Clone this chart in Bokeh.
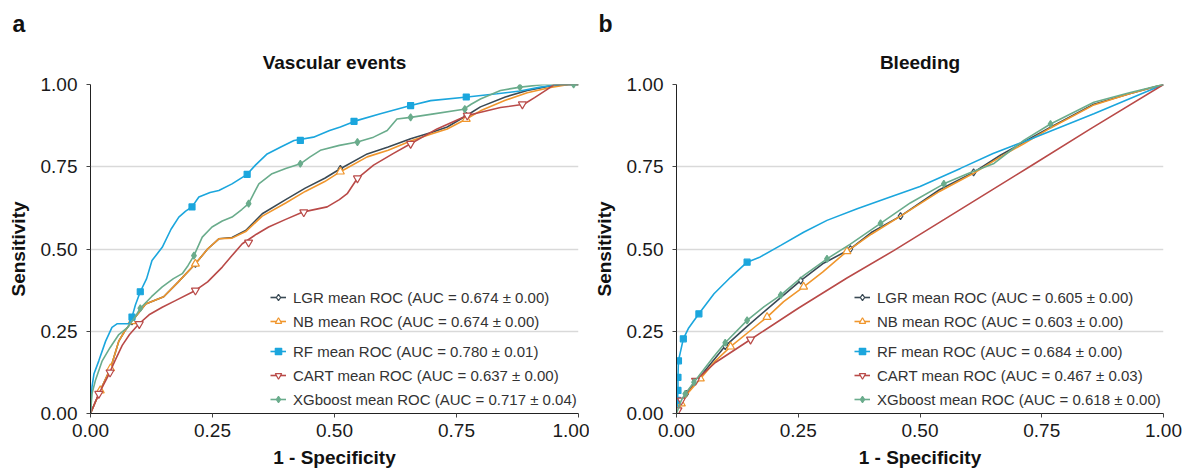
from bokeh.plotting import figure
from bokeh.models import Range1d, FixedTicker, Legend, LegendItem, Title, NumeralTickFormatter
from bokeh.layouts import row
from bokeh.embed import file_html
from bokeh.resources import INLINE

FONT = "Liberation Sans"

ticks = [0.0, 0.25, 0.5, 0.75, 1.0]
series = ["LGR", "NB", "RF", "CART", "XGboost"]
colors = ["#3a4a55", "#f0962d", "#1ba6dd", "#b94a48", "#6aac8c"]
marker_types = ["diamond", "triangle", "square", "inverted_triangle", "diamond"]
marker_fill = ["white", "white", None, "white", None]
marker_size = [7, 8, 6, 8, 7]

va_auc = ["0.674 ± 0.00", "0.674 ± 0.00", "0.780 ± 0.01", "0.637 ± 0.00", "0.717 ± 0.04"]
bl_auc = ["0.605 ± 0.00", "0.603 ± 0.00", "0.684 ± 0.00", "0.467 ± 0.03", "0.618 ± 0.00"]

# ---------------- Vascular events ----------------
va_lgr_x = [0, 0.02, 0.041, 0.058, 0.07, 0.085, 0.113, 0.15, 0.18, 0.215, 0.24, 0.263, 0.29, 0.318, 0.352, 0.40, 0.44, 0.48, 0.512, 0.567, 0.61, 0.656, 0.70, 0.731, 0.77, 0.799, 0.85, 0.895, 0.94, 0.98, 1.0]
va_lgr_y = [0, 0.07, 0.137, 0.22, 0.25, 0.28, 0.333, 0.355, 0.40, 0.455, 0.50, 0.531, 0.535, 0.556, 0.607, 0.65, 0.685, 0.715, 0.744, 0.789, 0.81, 0.835, 0.855, 0.871, 0.905, 0.932, 0.962, 0.982, 0.995, 1.0, 1.0]
va_nb_x = [0, 0.02, 0.041, 0.058, 0.07, 0.085, 0.113, 0.15, 0.18, 0.215, 0.24, 0.263, 0.29, 0.318, 0.352, 0.40, 0.44, 0.48, 0.512, 0.567, 0.61, 0.656, 0.70, 0.731, 0.77, 0.799, 0.85, 0.895, 0.94, 0.98, 1.0]
va_nb_y = [0, 0.07, 0.137, 0.22, 0.25, 0.28, 0.333, 0.355, 0.40, 0.455, 0.50, 0.531, 0.533, 0.553, 0.60, 0.64, 0.675, 0.705, 0.735, 0.78, 0.80, 0.828, 0.85, 0.865, 0.895, 0.92, 0.952, 0.975, 0.99, 1.0, 1.0]
va_rf_x = [0, 0.003, 0.007, 0.017, 0.031, 0.044, 0.055, 0.079, 0.085, 0.092, 0.102, 0.115, 0.126, 0.147, 0.165, 0.181, 0.195, 0.208, 0.222, 0.245, 0.263, 0.29, 0.321, 0.338, 0.362, 0.39, 0.417, 0.457, 0.49, 0.512, 0.547, 0.594, 0.656, 0.697, 0.772, 0.833, 0.88, 0.922, 0.96, 1.0]
va_rf_y = [0, 0.08, 0.12, 0.16, 0.22, 0.262, 0.273, 0.273, 0.293, 0.33, 0.37, 0.41, 0.465, 0.505, 0.56, 0.597, 0.615, 0.628, 0.658, 0.672, 0.678, 0.698, 0.727, 0.755, 0.789, 0.81, 0.83, 0.84, 0.86, 0.871, 0.891, 0.911, 0.936, 0.951, 0.962, 0.972, 0.98, 0.992, 1.0, 1.0]
va_cart_x = [0, 0.017, 0.038, 0.05, 0.065, 0.08, 0.099, 0.12, 0.147, 0.174, 0.215, 0.24, 0.27, 0.29, 0.311, 0.34, 0.365, 0.40, 0.434, 0.485, 0.51, 0.526, 0.547, 0.58, 0.62, 0.656, 0.71, 0.772, 0.84, 0.888, 0.91, 0.936, 0.95, 1.0]
va_cart_y = [0, 0.06, 0.12, 0.16, 0.207, 0.24, 0.272, 0.30, 0.323, 0.343, 0.374, 0.40, 0.445, 0.48, 0.516, 0.545, 0.567, 0.59, 0.612, 0.628, 0.65, 0.668, 0.715, 0.755, 0.79, 0.82, 0.865, 0.906, 0.93, 0.94, 0.96, 0.985, 1.0, 1.0]
va_xgb_x = [0, 0.003, 0.01, 0.024, 0.04, 0.058, 0.075, 0.09, 0.102, 0.125, 0.147, 0.17, 0.188, 0.2, 0.212, 0.229, 0.249, 0.27, 0.29, 0.31, 0.324, 0.335, 0.345, 0.372, 0.40, 0.43, 0.45, 0.471, 0.51, 0.547, 0.58, 0.608, 0.628, 0.656, 0.70, 0.765, 0.78, 0.799, 0.84, 0.881, 0.93, 1.0]
va_xgb_y = [0, 0.06, 0.10, 0.16, 0.20, 0.24, 0.26, 0.29, 0.32, 0.355, 0.385, 0.41, 0.425, 0.45, 0.48, 0.536, 0.567, 0.585, 0.597, 0.62, 0.638, 0.67, 0.698, 0.729, 0.745, 0.759, 0.78, 0.80, 0.815, 0.825, 0.84, 0.86, 0.895, 0.90, 0.91, 0.925, 0.94, 0.956, 0.982, 0.992, 1.0, 1.0]

va_lgr_mx = [0.02, 0.085, 0.215, 0.512, 0.77]
va_lgr_my = [0.07, 0.28, 0.455, 0.744, 0.905]
va_nb_mx = [0.02, 0.041, 0.085, 0.215, 0.512, 0.77]
va_nb_my = [0.07, 0.137, 0.28, 0.455, 0.735, 0.895]
va_rf_mx = [0.085, 0.102, 0.208, 0.321, 0.43, 0.54, 0.656, 0.77]
va_rf_my = [0.293, 0.37, 0.628, 0.727, 0.83, 0.888, 0.936, 0.962]
va_cart_mx = [0.017, 0.04, 0.10, 0.215, 0.324, 0.437, 0.547, 0.656, 0.772, 0.885]
va_cart_my = [0.06, 0.125, 0.272, 0.374, 0.52, 0.612, 0.715, 0.82, 0.906, 0.94]
va_xgb_mx = [0.102, 0.212, 0.324, 0.43, 0.547, 0.656, 0.767, 0.88, 0.99]
va_xgb_my = [0.32, 0.48, 0.638, 0.759, 0.825, 0.90, 0.925, 0.992, 1.0]

# ---------------- Bleeding ----------------
bl_lgr_x = [0, 0.01, 0.02, 0.05, 0.10, 0.145, 0.2, 0.255, 0.30, 0.357, 0.40, 0.46, 0.54, 0.61, 0.665, 0.713, 0.768, 0.857, 0.93, 1.0]
bl_lgr_y = [0, 0.035, 0.06, 0.115, 0.205, 0.265, 0.335, 0.404, 0.455, 0.50, 0.55, 0.60, 0.68, 0.733, 0.785, 0.825, 0.87, 0.94, 0.972, 1.0]
bl_nb_x = [0, 0.01, 0.025, 0.049, 0.08, 0.111, 0.15, 0.186, 0.22, 0.261, 0.30, 0.35, 0.40, 0.46, 0.54, 0.61, 0.665, 0.713, 0.768, 0.857, 0.93, 1.0]
bl_nb_y = [0, 0.03, 0.065, 0.106, 0.16, 0.203, 0.25, 0.293, 0.34, 0.385, 0.43, 0.493, 0.545, 0.60, 0.675, 0.73, 0.78, 0.82, 0.868, 0.938, 0.972, 1.0]
bl_rf_x = [0, 0.002, 0.003, 0.003, 0.004, 0.014, 0.025, 0.046, 0.077, 0.111, 0.145, 0.172, 0.214, 0.261, 0.309, 0.371, 0.433, 0.50, 0.583, 0.65, 0.72, 0.857, 1.0]
bl_rf_y = [0, 0.04, 0.07, 0.11, 0.16, 0.227, 0.26, 0.303, 0.364, 0.414, 0.46, 0.476, 0.511, 0.551, 0.587, 0.622, 0.655, 0.69, 0.745, 0.79, 0.83, 0.911, 1.0]
bl_cart_x = [0, 0.01, 0.039, 0.08, 0.152, 0.25, 0.35, 0.446, 0.55, 0.725, 0.85, 1.0]
bl_cart_y = [0, 0.04, 0.10, 0.155, 0.225, 0.32, 0.412, 0.495, 0.59, 0.75, 0.865, 1.0]
bl_xgb_x = [0, 0.01, 0.018, 0.036, 0.049, 0.075, 0.10, 0.145, 0.18, 0.214, 0.261, 0.309, 0.357, 0.419, 0.48, 0.549, 0.60, 0.652, 0.713, 0.768, 0.857, 0.93, 1.0]
bl_xgb_y = [0, 0.04, 0.06, 0.095, 0.12, 0.17, 0.215, 0.283, 0.325, 0.36, 0.419, 0.47, 0.515, 0.578, 0.64, 0.698, 0.73, 0.76, 0.83, 0.88, 0.946, 0.975, 1.0]

bl_lgr_mx = [0.02, 0.10, 0.255, 0.357, 0.46, 0.61]
bl_lgr_my = [0.06, 0.205, 0.404, 0.50, 0.60, 0.733]
bl_nb_mx = [0.01, 0.049, 0.111, 0.186, 0.261, 0.35]
bl_nb_my = [0.03, 0.106, 0.203, 0.293, 0.385, 0.493]
bl_rf_mx = [0.002, 0.003, 0.003, 0.004, 0.014, 0.046, 0.145]
bl_rf_my = [0.04, 0.07, 0.11, 0.16, 0.227, 0.303, 0.46]
bl_cart_mx = [0.003, 0.01, 0.039, 0.152]
bl_cart_my = [0.01, 0.04, 0.10, 0.225]
bl_xgb_mx = [0.018, 0.036, 0.10, 0.145, 0.214, 0.309, 0.419, 0.549, 0.768]
bl_xgb_my = [0.06, 0.095, 0.215, 0.283, 0.36, 0.47, 0.578, 0.698, 0.88]

va_curves = [(va_lgr_x, va_lgr_y), (va_nb_x, va_nb_y), (va_rf_x, va_rf_y), (va_cart_x, va_cart_y), (va_xgb_x, va_xgb_y)]
va_marks = [(va_lgr_mx, va_lgr_my), (va_nb_mx, va_nb_my), (va_rf_mx, va_rf_my), (va_cart_mx, va_cart_my), (va_xgb_mx, va_xgb_my)]
bl_curves = [(bl_lgr_x, bl_lgr_y), (bl_nb_x, bl_nb_y), (bl_rf_x, bl_rf_y), (bl_cart_x, bl_cart_y), (bl_xgb_x, bl_xgb_y)]
bl_marks = [(bl_lgr_mx, bl_lgr_my), (bl_nb_mx, bl_nb_my), (bl_rf_mx, bl_rf_my), (bl_cart_mx, bl_cart_my), (bl_xgb_mx, bl_xgb_my)]


def panel(title, letter, curves, marks, aucs, width, border_left, border_right, legend_x, letter_offset):
    p = figure(width=width, height=470, x_range=Range1d(0, 1), y_range=Range1d(0, 1),
               output_backend="svg", toolbar_location=None,
               min_border_left=border_left, min_border_right=border_right,
               min_border_top=84, min_border_bottom=57)
    p.outline_line_color = None
    p.background_fill_color = "white"
    # panel letter as the outermost title
    p.title.text = letter
    p.title.align = "left"
    p.title.offset = letter_offset
    p.title.text_font = FONT
    p.title.text_font_size = "23px"
    p.title.text_font_style = "bold"
    p.title.text_color = "#111111"
    p.title.standoff = 4
    # main title closest to the frame
    p.add_layout(Title(text=title, align="center", text_font=FONT,
                       text_font_size="19px", text_font_style="bold",
                       text_color="#111111", standoff=23), "above")

    for ax in (p.xaxis[0], p.yaxis[0]):
        ax.ticker = FixedTicker(ticks=ticks)
        ax.formatter = NumeralTickFormatter(format="0.00")
        ax.major_label_text_font = FONT
        ax.major_label_text_font_size = "19px"
        ax.major_label_text_color = "#1a1a1a"
        ax.axis_label_text_font = FONT
        ax.axis_label_text_font_size = "19px"
        ax.axis_label_text_font_style = "bold"
        ax.axis_label_text_color = "#111111"
        ax.axis_line_color = "#222222"
        ax.major_tick_line_color = "#444444"
        ax.major_tick_in = 0
        ax.major_tick_out = 4
        ax.minor_tick_line_color = None
    p.xaxis.axis_label = "1 - Specificity"
    p.yaxis.axis_label = "Sensitivity"
    p.xaxis.major_label_standoff = 6
    p.xaxis.axis_label_standoff = 7
    p.yaxis.major_label_standoff = 9
    p.yaxis.axis_label_standoff = 9
    p.xgrid.grid_line_color = None
    p.ygrid.grid_line_color = "#d9d9d9"
    p.ygrid.grid_line_width = 1.5

    items = []
    for i, name in enumerate(series):
        cx, cy = curves[i]
        mx, my = marks[i]
        lr = p.line(cx, cy, line_color=colors[i], line_width=1.6)
        sr = p.scatter(mx, my, marker=marker_types[i], size=marker_size[i],
                       line_color=colors[i], line_width=1.2,
                       fill_color=colors[i] if marker_fill[i] is None else marker_fill[i])
        items.append(LegendItem(label=f"{name} mean ROC (AUC = {aucs[i]})", renderers=[lr, sr]))

    for grp, ypos in ((items[:2], 82), (items[2:], 4)):
        lg = Legend(items=grp, location=(legend_x, ypos), padding=0, margin=0,
                    spacing=4, glyph_width=16, glyph_height=20, label_height=20,
                    label_standoff=7, border_line_color=None, background_fill_alpha=0,
                    label_text_font=FONT, label_text_font_size="15px",
                    label_text_color="#333333")
        p.add_layout(lg, "center")
    return p


p1 = panel("Vascular events", "a", va_curves, va_marks, va_auc, 589, 90, 11, 180, -78)
p2 = panel("Bleeding", "b", bl_curves, bl_marks, bl_auc, 600, 87, 26, 178, -78)
layout = row(p1, p2)
open("out.html", "w").write(file_html(layout, INLINE))
